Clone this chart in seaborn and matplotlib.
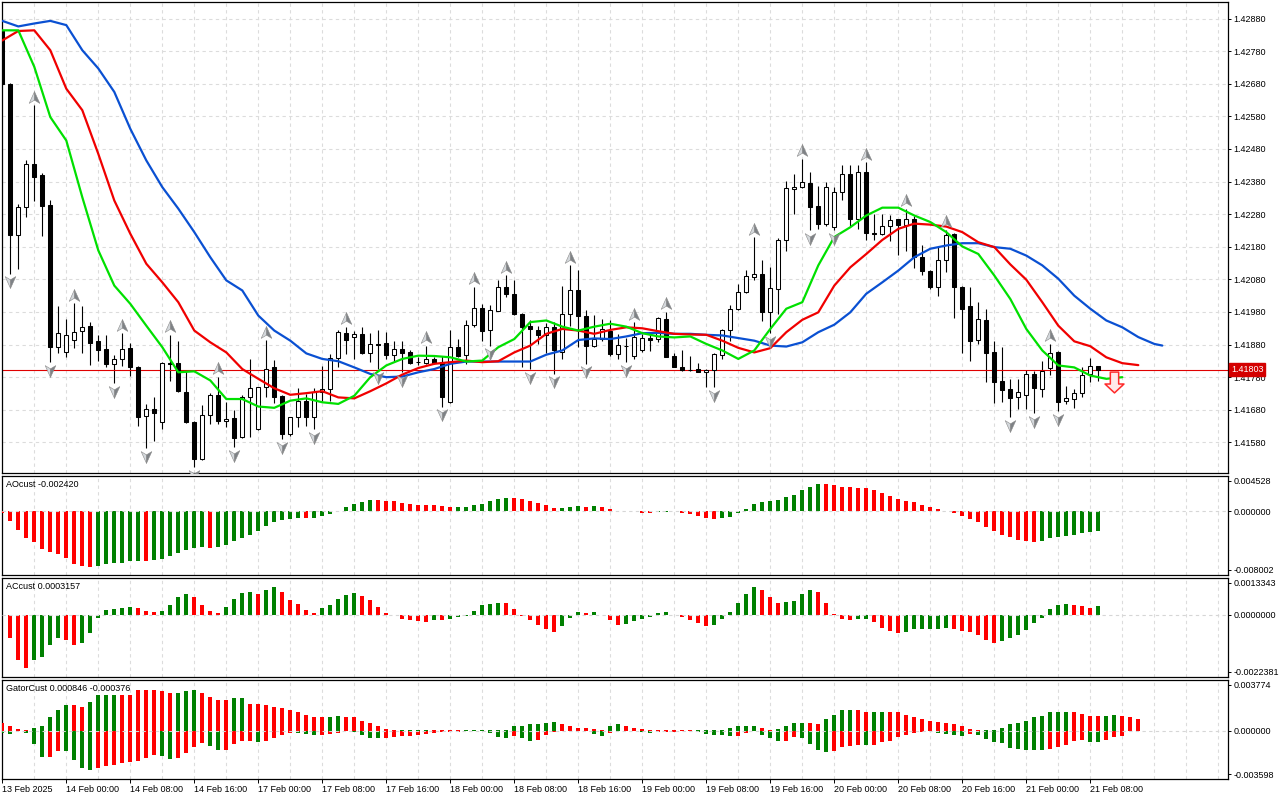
import numpy as np
import pandas as pd
import matplotlib
matplotlib.use("Agg")
import matplotlib.pyplot as plt
import seaborn as sns
from matplotlib.path import Path
from matplotlib.transforms import blended_transform_factory

sns.set_theme(style="white")
plt.rcParams['font.family'] = ['Liberation Sans', 'DejaVu Sans']
plt.rcParams['font.size'] = 6.5

# ---------------- data (hourly bars, 13 Feb 16:00 .. 21 Feb 09:00) ----------------
opens = [1.42844, 1.42680, 1.42215, 1.42302, 1.42433, 1.42399, 1.42307, 1.41872, 1.41856, 1.41894,
 1.41921, 1.41938, 1.41890, 1.41865, 1.41821, 1.41836, 1.41870, 1.41812, 1.41662, 1.41682,
 1.41641, 1.41824, 1.41824, 1.41736, 1.41644, 1.41529, 1.41664, 1.41725, 1.41645, 1.41654,
 1.41596, 1.41718, 1.41621, 1.41749, 1.41812, 1.41723, 1.41606, 1.41657, 1.41708, 1.41659,
 1.41734, 1.41744, 1.41838, 1.41916, 1.41902, 1.41911, 1.41853, 1.41882, 1.41884, 1.41848,
 1.41867, 1.41856, 1.41826, 1.41823, 1.41836, 1.41826, 1.41703, 1.41872, 1.41848, 1.41940,
 1.41993, 1.41925, 1.41984, 1.42058, 1.42036, 1.41974, 1.41938, 1.41925, 1.41908, 1.41935,
 1.41856, 1.41974, 1.42046, 1.41969, 1.41877, 1.41898, 1.41923, 1.41851, 1.41877, 1.41846,
 1.41862, 1.41900, 1.41897, 1.41959, 1.41846, 1.41812, 1.41803, 1.41804, 1.41796, 1.41802,
 1.41849, 1.41925, 1.41989, 1.42041, 1.42087, 1.42095, 1.41979, 1.42051, 1.42202, 1.42357,
 1.42363, 1.42376, 1.42305, 1.42251, 1.42240, 1.42348, 1.42402, 1.42266, 1.42409, 1.42222,
 1.42220, 1.42243, 1.42264, 1.42248, 1.42266, 1.42150, 1.42107, 1.42056, 1.42138, 1.42220,
 1.42058, 1.41997, 1.41894, 1.41954, 1.41856, 1.41767, 1.41744, 1.41718, 1.41725, 1.41790,
 1.41744, 1.41807, 1.41858, 1.41708, 1.41713, 1.41731, 1.41790, 1.41813]
highs = [1.42849, 1.42682, 1.42310, 1.42445, 1.42614, 1.42407, 1.42324, 1.41997, 1.41959, 1.42007,
 1.41997, 1.41949, 1.41908, 1.41908, 1.41849, 1.41915, 1.41885, 1.41814, 1.41698, 1.41718,
 1.41826, 1.41910, 1.41892, 1.41800, 1.41647, 1.41695, 1.41732, 1.41782, 1.41703, 1.41680,
 1.41725, 1.41836, 1.41751, 1.41894, 1.41834, 1.41725, 1.41659, 1.41746, 1.41729, 1.41746,
 1.41815, 1.41851, 1.41925, 1.41935, 1.41923, 1.41933, 1.41916, 1.41925, 1.41918, 1.41892,
 1.41892, 1.41862, 1.41841, 1.41877, 1.41843, 1.41846, 1.41925, 1.41898, 1.41954, 1.42058,
 1.42005, 1.42000, 1.42078, 1.42092, 1.42077, 1.41976, 1.41954, 1.41938, 1.41945, 1.41949,
 1.42061, 1.42123, 1.42109, 1.41986, 1.41972, 1.41959, 1.41956, 1.41911, 1.41900, 1.41949,
 1.41913, 1.41913, 1.41966, 1.41981, 1.41853, 1.41862, 1.41846, 1.41823, 1.41805, 1.41853,
 1.41928, 1.42000, 1.42066, 1.42109, 1.42210, 1.42140, 1.42117, 1.42207, 1.42381, 1.42402,
 1.42450, 1.42409, 1.42365, 1.42378, 1.42363, 1.42432, 1.42432, 1.42432, 1.42440, 1.42281,
 1.42281, 1.42276, 1.42266, 1.42297, 1.42273, 1.42184, 1.42109, 1.42179, 1.42232, 1.42222,
 1.42060, 1.42056, 1.42010, 1.41989, 1.41890, 1.41872, 1.41775, 1.41775, 1.41802, 1.41798,
 1.41829, 1.41882, 1.41860, 1.41754, 1.41744, 1.41812, 1.41839, 1.41815]
lows = [1.42675, 1.42098, 1.42112, 1.42271, 1.42322, 1.42213, 1.41826, 1.41853, 1.41843, 1.41870,
 1.41853, 1.41818, 1.41829, 1.41812, 1.41761, 1.41813, 1.41783, 1.41631, 1.41562, 1.41585,
 1.41621, 1.41769, 1.41734, 1.41638, 1.41503, 1.41526, 1.41636, 1.41636, 1.41626, 1.41565,
 1.41593, 1.41596, 1.41619, 1.41720, 1.41700, 1.41590, 1.41601, 1.41626, 1.41631, 1.41621,
 1.41708, 1.41708, 1.41812, 1.41851, 1.41836, 1.41851, 1.41826, 1.41805, 1.41836, 1.41826,
 1.41795, 1.41821, 1.41816, 1.41821, 1.41819, 1.41690, 1.41700, 1.41843, 1.41819, 1.41933,
 1.41890, 1.41877, 1.41982, 1.42025, 1.41972, 1.41812, 1.41805, 1.41882, 1.41853, 1.41790,
 1.41836, 1.41938, 1.41872, 1.41821, 1.41872, 1.41892, 1.41846, 1.41836, 1.41826, 1.41836,
 1.41856, 1.41860, 1.41887, 1.41841, 1.41810, 1.41798, 1.41798, 1.41795, 1.41751, 1.41749,
 1.41836, 1.41892, 1.41987, 1.42039, 1.42077, 1.41952, 1.41915, 1.41974, 1.42167, 1.42281,
 1.42361, 1.42230, 1.42235, 1.42245, 1.42230, 1.42325, 1.42245, 1.42235, 1.42202, 1.42201,
 1.42215, 1.42199, 1.42155, 1.42167, 1.42115, 1.42092, 1.42051, 1.42028, 1.42102, 1.41962,
 1.41854, 1.41829, 1.41882, 1.41764, 1.41700, 1.41703, 1.41657, 1.41682, 1.41682, 1.41669,
 1.41720, 1.41788, 1.41675, 1.41698, 1.41686, 1.41718, 1.41764, 1.41769]
closes = [1.42680, 1.42215, 1.42302, 1.42433, 1.42394, 1.42305, 1.41872, 1.41916, 1.41908, 1.41920,
 1.41935, 1.41884, 1.41864, 1.41821, 1.41836, 1.41867, 1.41812, 1.41657, 1.41682, 1.41669,
 1.41824, 1.41819, 1.41737, 1.41641, 1.41529, 1.41664, 1.41725, 1.41645, 1.41652, 1.41593,
 1.41720, 1.41747, 1.41749, 1.41805, 1.41720, 1.41606, 1.41657, 1.41708, 1.41659, 1.41734,
 1.41744, 1.41838, 1.41918, 1.41895, 1.41911, 1.41853, 1.41882, 1.41880, 1.41848, 1.41867,
 1.41853, 1.41823, 1.41826, 1.41836, 1.41823, 1.41718, 1.41872, 1.41846, 1.41941, 1.41993,
 1.41923, 1.41986, 1.42058, 1.42036, 1.41974, 1.41935, 1.41928, 1.41908, 1.41933, 1.41862,
 1.41974, 1.42046, 1.41969, 1.41877, 1.41898, 1.41928, 1.41851, 1.41880, 1.41875, 1.41902,
 1.41900, 1.41894, 1.41962, 1.41843, 1.41812, 1.41802, 1.41801, 1.41796, 1.41802, 1.41851,
 1.41925, 1.41989, 1.42041, 1.42091, 1.42095, 1.41979, 1.42054, 1.42202, 1.42361, 1.42363,
 1.42378, 1.42302, 1.42251, 1.42363, 1.42348, 1.42402, 1.42266, 1.42409, 1.42223, 1.42220,
 1.42243, 1.42261, 1.42248, 1.42266, 1.42148, 1.42105, 1.42056, 1.42138, 1.42217, 1.42056,
 1.41989, 1.41892, 1.41957, 1.41853, 1.41764, 1.41741, 1.41715, 1.41736, 1.41790, 1.41746,
 1.41800, 1.41854, 1.41705, 1.41715, 1.41732, 1.41788, 1.41813, 1.41803]

# Alligator lines (read every 2 bars, lines are shifted forward)
jaw_idx = list(range(0, 145, 2)) + [145]
jaw_vals = [1.42873, 1.42856, 1.42865, 1.42873, 1.42860, 1.42783, 1.42727, 1.42655, 1.42542, 1.42445,
 1.42363, 1.42297, 1.42225, 1.42148, 1.42077, 1.42046, 1.41969, 1.41923, 1.41892, 1.41853,
 1.41836, 1.41829, 1.41810, 1.41790, 1.41780, 1.41782, 1.41795, 1.41805, 1.41821, 1.41828,
 1.41828, 1.41828, 1.41828, 1.41828, 1.41849, 1.41862, 1.41894, 1.41899, 1.41897, 1.41905,
 1.41915, 1.41916, 1.41913, 1.41913, 1.41910, 1.41908, 1.41900, 1.41892, 1.41877, 1.41874,
 1.41887, 1.41918, 1.41941, 1.41979, 1.42036, 1.42071, 1.42107, 1.42148, 1.42174, 1.42184,
 1.42191, 1.42191, 1.42179, 1.42174, 1.42153, 1.42123, 1.42082, 1.42030, 1.41990, 1.41954,
 1.41933, 1.41903, 1.41882, 1.41877]
teeth_idx = list(range(0, 143, 2))
teeth_vals = [1.42813, 1.42842, 1.42844, 1.42783, 1.42665, 1.42599, 1.42465, 1.42322, 1.42220, 1.42128,
 1.42071, 1.42010, 1.41923, 1.41887, 1.41856, 1.41805, 1.41775, 1.41746, 1.41726, 1.41731,
 1.41737, 1.41718, 1.41715, 1.41737, 1.41761, 1.41788, 1.41808, 1.41821, 1.41826, 1.41831,
 1.41826, 1.41829, 1.41856, 1.41877, 1.41913, 1.41928, 1.41923, 1.41913, 1.41925, 1.41933,
 1.41930, 1.41921, 1.41913, 1.41911, 1.41910, 1.41892, 1.41870, 1.41856, 1.41869, 1.41918,
 1.41956, 1.41979, 1.42061, 1.42117, 1.42158, 1.42201, 1.42235, 1.42251, 1.42248, 1.42242,
 1.42225, 1.42194, 1.42179, 1.42126, 1.42079, 1.42010, 1.41938, 1.41890, 1.41875, 1.41841,
 1.41823, 1.41817]
lips_idx = list(range(0, 141, 2))
lips_vals = [1.42844, 1.42844, 1.42732, 1.42578, 1.42506, 1.42332, 1.42169, 1.42061, 1.42005, 1.41938,
 1.41872, 1.41795, 1.41798, 1.41770, 1.41713, 1.41713, 1.41690, 1.41686, 1.41708, 1.41715,
 1.41703, 1.41698, 1.41723, 1.41780, 1.41816, 1.41836, 1.41846, 1.41845, 1.41841, 1.41828,
 1.41831, 1.41872, 1.41897, 1.41949, 1.41954, 1.41935, 1.41923, 1.41935, 1.41944, 1.41935,
 1.41915, 1.41905, 1.41902, 1.41905, 1.41882, 1.41862, 1.41836, 1.41862, 1.41928, 1.41990,
 1.42010, 1.42123, 1.42210, 1.42240, 1.42276, 1.42300, 1.42300, 1.42276, 1.42256, 1.42225,
 1.42181, 1.42158, 1.42092, 1.42020, 1.41928, 1.41862, 1.41816, 1.41810, 1.41785, 1.41775,
 1.41780]

fractal_up = [4, 9, 15, 21, 27, 33, 43, 53, 59, 63, 71, 79, 83, 94, 100, 108, 113, 118, 131]
fractal_down = [1, 6, 14, 18, 24, 29, 35, 39, 47, 50, 55, 61, 66, 69, 73, 78, 89, 96, 101, 104, 126, 129, 132]
signal_idx = [139]
signal_price = [1.41766]
last_price = 1.41803
price_ticks = [1.42880, 1.42780, 1.42680, 1.42580, 1.42480, 1.42380, 1.42280,
               1.42180, 1.42080, 1.41980, 1.41880, 1.41780, 1.41680, 1.41580]
price_range = (1.41487, 1.42930)

ao_vals = [-0.00020, -0.00124, -0.00239, -0.00341, -0.00392, -0.00469, -0.00507, -0.00537, -0.00584, -0.00661,
 -0.00696, -0.00700, -0.00686, -0.00663, -0.00652, -0.00648, -0.00627, -0.00622, -0.00624, -0.00610,
 -0.00597, -0.00567, -0.00520, -0.00482, -0.00456, -0.00454, -0.00457, -0.00453, -0.00418, -0.00371,
 -0.00333, -0.00294, -0.00252, -0.00188, -0.00136, -0.00111, -0.00098, -0.00085, -0.00087, -0.00084,
 -0.00060, -0.00034, 0.00008, 0.00051, 0.00090, 0.00115, 0.00141, 0.00139, 0.00132, 0.00128,
 0.00111, 0.00098, 0.00085, 0.00077, 0.00076, 0.00064, 0.00051, 0.00052, 0.00053, 0.00077,
 0.00098, 0.00128, 0.00153, 0.00166, 0.00165, 0.00153, 0.00128, 0.00107, 0.00077, 0.00043,
 0.00044, 0.00051, 0.00064, 0.00060, 0.00064, 0.00051, 0.00030, 0.00004, 0.00002, 0.00003,
 -0.00017, -0.00021, -0.00005, -0.00001, 0.00001, -0.00021, -0.00034, -0.00055, -0.00085, -0.00098,
 -0.00085, -0.00072, -0.00021, 0.00030, 0.00090, 0.00115, 0.00128, 0.00141, 0.00179, 0.00205,
 0.00269, 0.00315, 0.00345, 0.00344, 0.00333, 0.00307, 0.00306, 0.00294, 0.00293, 0.00269,
 0.00230, 0.00192, 0.00153, 0.00128, 0.00115, 0.00077, 0.00051, 0.00030, 0.00004, -0.00021,
 -0.00060, -0.00098, -0.00136, -0.00200, -0.00252, -0.00294, -0.00328, -0.00367, -0.00379, -0.00384,
 -0.00379, -0.00341, -0.00328, -0.00307, -0.00294, -0.00277, -0.00264, -0.00242]
ao_range = (-0.008002, 0.004528)
ao_labels = ["0.004528", "0.000000", "-0.008002"]

ac_vals = [-0.00002, -0.00083, -0.00165, -0.00194, -0.00165, -0.00152, -0.00111, -0.00083, -0.00093, -0.00111,
 -0.00103, -0.00067, -0.00013, 0.00018, 0.00019, 0.00025, 0.00029, 0.00025, 0.00012, 0.00011,
 0.00014, 0.00036, 0.00065, 0.00076, 0.00065, 0.00036, 0.00014, 0.00007, 0.00029, 0.00058,
 0.00079, 0.00083, 0.00076, 0.00090, 0.00101, 0.00083, 0.00054, 0.00040, 0.00018, 0.00007,
 0.00025, 0.00036, 0.00058, 0.00072, 0.00079, 0.00069, 0.00054, 0.00029, 0.00007, -0.00001,
 -0.00014, -0.00018, -0.00024, -0.00025, -0.00020, -0.00021, -0.00017, -0.00010, -0.00006, 0.00014,
 0.00036, 0.00040, 0.00043, 0.00042, 0.00022, -0.00004, -0.00020, -0.00038, -0.00053, -0.00064,
 -0.00042, -0.00013, 0.00011, 0.00007, 0.00008, -0.00002, -0.00020, -0.00038, -0.00035, -0.00024,
 -0.00017, -0.00010, 0.00005, 0.00011, -0.00002, -0.00010, -0.00020, -0.00031, -0.00042, -0.00038,
 -0.00017, 0.00011, 0.00043, 0.00076, 0.00101, 0.00090, 0.00065, 0.00043, 0.00047, 0.00051,
 0.00076, 0.00090, 0.00083, 0.00043, 0.00004, -0.00017, -0.00020, -0.00017, -0.00016, -0.00028,
 -0.00049, -0.00060, -0.00067, -0.00064, -0.00053, -0.00052, -0.00051, -0.00050, -0.00049, -0.00052,
 -0.00060, -0.00064, -0.00075, -0.00093, -0.00103, -0.00096, -0.00085, -0.00075, -0.00057, -0.00031,
 -0.00013, 0.00022, 0.00036, 0.00037, 0.00035, 0.00032, 0.00025, 0.0003157]
ac_range = (-0.0022381, 0.0013343)
ac_labels = ["0.0013343", "0.0000000", "-0.0022381"]

gator_up = [0.00057, 0.00030, 0.00015, 0.00007, 0.00022, 0.00037, 0.00097, 0.00156, 0.00193, 0.00186,
 0.00178, 0.00215, 0.00267, 0.00267, 0.00267, 0.00267, 0.00267, 0.00304, 0.00304, 0.00304,
 0.00290, 0.00282, 0.00282, 0.00297, 0.00304, 0.00282, 0.00252, 0.00223, 0.00223, 0.00238,
 0.00245, 0.00200, 0.00200, 0.00186, 0.00178, 0.00171, 0.00156, 0.00141, 0.00119, 0.00104,
 0.00104, 0.00104, 0.00111, 0.00104, 0.00097, 0.00074, 0.00059, 0.00037, 0.00015, 0.00005,
 0.00007, 0.00007, 0.00007, 0.00007, 0.00007, 0.00007, 0.00007, 0.00005, 0.00007, 0.00003,
 0.00003, 0.00002, 0.00002, 0.00007, 0.00030, 0.00037, 0.00045, 0.00052, 0.00059, 0.00067,
 0.00052, 0.00037, 0.00022, 0.00022, 0.00015, 0.00002, 0.00030, 0.00045, 0.00037, 0.00022,
 0.00015, 0.00005, 0.00002, 0.00002, 0.00002, 0.00002, 0.00002, 0.00004, 0.00002, 0.00002,
 0.00007, 0.00022, 0.00030, 0.00030, 0.00037, 0.00022, 0.00007, 0.00015, 0.00037, 0.00059,
 0.00059, 0.00059, 0.00052, 0.00082, 0.00119, 0.00149, 0.00156, 0.00149, 0.00134, 0.00134,
 0.00134, 0.00134, 0.00134, 0.00119, 0.00104, 0.00089, 0.00074, 0.00067, 0.00059, 0.00045,
 0.00030, 0.00015, 0.00004, 0.00002, 0.00002, 0.00022, 0.00045, 0.00059, 0.00074, 0.00097,
 0.00111, 0.00134, 0.00141, 0.00141, 0.00134, 0.00126, 0.00111, 0.00111, 0.00111, 0.00119,
 0.00111, 0.00097, 0.000846]
gator_up_state = ("RRRRGGGGGR" "RGGGGRRRRR" "RRGGGRRRRG" "GRRRRRRRRR" "RGGRRRRRRR"
                  "GGGGRRRRGG" "GGGGGGGGGG" "RRRRRRGGRR" "RRRRRRRGGG" "GGGGGRRGGG"
                  "GRRGGGGRRG" "GRRRRRRRRR" "RRRGGGGGGG" "GGGGRRRRGG" "RRR")
gator_dn = [-0.00020, -0.00027, -0.00005, -0.00020, -0.00101, -0.00198, -0.00198, -0.00153, -0.00153, -0.00220,
 -0.00280, -0.00295, -0.00280, -0.00265, -0.00257, -0.00243, -0.00235, -0.00228, -0.00205, -0.00183,
 -0.00191, -0.00213, -0.00205, -0.00168, -0.00124, -0.00094, -0.00116, -0.00146, -0.00146, -0.00101,
 -0.00079, -0.00079, -0.00087, -0.00079, -0.00057, -0.00035, -0.00020, -0.00020, -0.00027, -0.00035,
 -0.00035, -0.00027, -0.00020, -0.00005, -0.00012, -0.00035, -0.00057, -0.00057, -0.00057, -0.00050,
 -0.00042, -0.00042, -0.00035, -0.00027, -0.00020, -0.00012, -0.00012, -0.00012, -0.00002, -0.00005,
 -0.00005, -0.00020, -0.00050, -0.00057, -0.00042, -0.00057, -0.00079, -0.00072, -0.00035, -0.00012,
 -0.00002, -0.00005, -0.00002, -0.00005, -0.00027, -0.00042, -0.00020, -0.00005, -0.00002, -0.00005,
 -0.00012, -0.00020, -0.00012, -0.00012, -0.00012, -0.00005, -0.00002, -0.00012, -0.00027, -0.00035,
 -0.00035, -0.00042, -0.00042, -0.00020, -0.00005, -0.00035, -0.00057, -0.00079, -0.00079, -0.00050,
 -0.00057, -0.00101, -0.00146, -0.00161, -0.00153, -0.00124, -0.00116, -0.00109, -0.00109, -0.00109,
 -0.00087, -0.00079, -0.00050, -0.00035, -0.00020, -0.00012, -0.00005, -0.00020, -0.00027, -0.00035,
 -0.00042, -0.00027, -0.00035, -0.00064, -0.00087, -0.00094, -0.00131, -0.00139, -0.00146, -0.00146,
 -0.00146, -0.00139, -0.00124, -0.00109, -0.00079, -0.00072, -0.00087, -0.00087, -0.00072, -0.00050,
 -0.000376]
gator_dn_state = ("GGRGGGRRGG" "GGRRRRRRRR" "GGRRRRGGRR" "RRGRRRRGGG" "RRRRGGGGRR"
                  "RRRRRRRRRG" "GGGGRGGRRR" "RRGGGGRRRG" "GGRRRRRGGG" "GGRRRGGGRR"
                  "GGGGRRRRGR" "RRRRRRRGGG" "GRGGGGGGGG" "GRRRRRGGRR" "R")
gator_range = (-0.003598, 0.003774)
gator_labels = ["0.003774", "0.000000", "-0.003598"]

time_tick_idx = list(range(0, 137, 8))
time_labels = ["13 Feb 2025", "14 Feb 00:00", "14 Feb 08:00", "14 Feb 16:00", "17 Feb 00:00",
               "17 Feb 08:00", "17 Feb 16:00", "18 Feb 00:00", "18 Feb 08:00", "18 Feb 16:00",
               "19 Feb 00:00", "19 Feb 08:00", "19 Feb 16:00", "20 Feb 00:00", "20 Feb 08:00",
               "20 Feb 16:00", "21 Feb 00:00", "21 Feb 08:00"]

# ---------------- figure ----------------
W, H = 1280, 800
fig = plt.figure(figsize=(W / 100, H / 100), dpi=100, facecolor='white')
LEFT, RIGHT = 2.3, 1227.5
BAR_PX = 8.0


def add_panel(top, bottom):
    return fig.add_axes([LEFT / W, 1 - bottom / H, (RIGHT - LEFT) / W, (bottom - top) / H])


ax_p = add_panel(2.3, 472.7)
ax_ao = add_panel(475.7, 574.7)
ax_ac = add_panel(577.7, 676.7)
ax_g = add_panel(679.7, 779.0)
panel_h = {ax_p: 470.4, ax_ao: 99.0, ax_ac: 99.0, ax_g: 99.3}

GRID = '#dcdcdc'
DASH = (0, (3, 3))
GREEN = '#008000'
RED = '#ff0000'
xmax = (RIGHT - LEFT) / BAR_PX

for ax in panel_h:
    ax.set_facecolor('white')
    for gx in range(4, int(xmax) + 1, 4):
        ax.axvline(gx, color=GRID, lw=0.8, ls=DASH, zorder=0)
    for sp in ax.spines.values():
        sp.set_color('black')
        sp.set_linewidth(0.9)
    ax.yaxis.tick_right()
    ax.tick_params(axis='y', which='both', right=True, left=False, length=2.5, width=0.7,
                   pad=1.8, labelsize=6.5, colors='black', direction='out')
    ax.tick_params(axis='x', bottom=False, labelbottom=False, top=False)

# ---- price panel ----
o = np.array(opens); h = np.array(highs); l = np.array(lows); c = np.array(closes)
n = len(o)
idx = np.arange(n)
bull = c >= o
ax_p.vlines(idx, l, h, color='black', lw=0.8, zorder=2)
ax_p.bar(idx, np.abs(c - o), bottom=np.minimum(o, c), width=0.52,
         color=np.where(bull, 'white', 'black'), edgecolor='black', linewidth=0.75, zorder=3)

ax_p.axhline(last_price, color='#e00000', lw=0.8, zorder=2.5)

sns.lineplot(x=jaw_idx, y=jaw_vals, ax=ax_p, color='#0a50d2', linewidth=1.6,
             estimator=None, sort=False, legend=False, zorder=5)
sns.lineplot(x=teeth_idx, y=teeth_vals, ax=ax_p, color='#f00000', linewidth=1.6,
             estimator=None, sort=False, legend=False, zorder=5)
sns.lineplot(x=lips_idx, y=lips_vals, ax=ax_p, color='#00e000', linewidth=1.6,
             estimator=None, sort=False, legend=False, zorder=5)

ymin, ymax = price_range
ax_p.set_ylim(ymin, ymax)
ax_p.set_yticks(price_ticks)
ax_p.set_yticklabels([f"{v:.5f}" for v in price_ticks])
for v in price_ticks:
    ax_p.axhline(v, color=GRID, lw=0.8, ls=DASH, zorder=0)
ax_p.set_xlabel(''); ax_p.set_ylabel('')

# fractal arrows: two-tone "3D" arrowheads
off = (ymax - ymin) / panel_h[ax_p] * 8.5
CL = [Path.MOVETO, Path.LINETO, Path.LINETO, Path.CLOSEPOLY]
up_left = Path([(0, 1), (0, -0.45), (-0.9, -1), (0, 1)], CL)
up_right = Path([(0, 1), (0.9, -1), (0, -0.45), (0, 1)], CL)
dn_left = Path([(0, -1), (-0.9, 1), (0, 0.45), (0, -1)], CL)
dn_right = Path([(0, -1), (0, 0.45), (0.9, 1), (0, -1)], CL)
fu = np.array(fractal_up); fd = np.array(fractal_down)
for pth, col in ((up_left, '#d4d8dc'), (up_right, '#7e8286')):
    ax_p.plot(fu, h[fu] + off, ls='none', marker=pth, ms=8.5, mfc=col, mec='#8a8a8a',
              mew=0.4, zorder=6)
for pth, col in ((dn_left, '#d4d8dc'), (dn_right, '#7e8286')):
    ax_p.plot(fd, l[fd] - off, ls='none', marker=pth, ms=8.5, mfc=col, mec='#8a8a8a',
              mew=0.4, zorder=6)

sig_path = Path([(-0.22, 0.55), (0.22, 0.55), (0.22, -0.08), (0.5, -0.08), (0, -0.55),
                 (-0.5, -0.08), (-0.22, -0.08), (-0.22, 0.55)],
                [Path.MOVETO] + [Path.LINETO] * 6 + [Path.CLOSEPOLY])
ax_p.plot(signal_idx, signal_price, ls='none', marker=sig_path, ms=15, mfc='#ffe8e8',
          mec='#ff2a2a', mew=1.1, zorder=7)

tr = blended_transform_factory(ax_p.transAxes, ax_p.transData)
ax_p.text(1.0028, last_price, f"{last_price:.5f}", transform=tr, color='white', fontsize=6.5,
          va='center', ha='left', zorder=20, clip_on=False,
          bbox=dict(boxstyle='square,pad=0.22', fc='#d40000', ec='#d40000'))


# ---- sub panels ----
def setup_sub(ax, rng, labels, title):
    lo, hi = rng
    ax.set_ylim(lo, hi)
    d = (hi - lo) / panel_h[ax] * 5
    ax.set_yticks([hi - d, 0, lo + d])
    ax.set_yticklabels(labels)
    ax.axhline(0, color='#d6d6d6', lw=0.8, ls=DASH, zorder=4)
    ax.annotate(title, xy=(0, 1), xycoords='axes fraction', xytext=(4, -9),
                textcoords='offset pixels', va='center', ha='left', fontsize=6.5,
                color='black', zorder=10)


ao = np.array(ao_vals)
ao_col = np.where(np.diff(ao, prepend=ao[0]) > 0, GREEN, RED)
ax_ao.bar(np.arange(len(ao)), ao, width=0.5, color=ao_col, linewidth=0, zorder=3)
setup_sub(ax_ao, ao_range, ao_labels, f"AOcust {ao_vals[-1]:.6f}")

ac = np.array(ac_vals)
ac_col = np.where(np.diff(ac, prepend=ac[0]) > 0, GREEN, RED)
ax_ac.bar(np.arange(len(ac)), ac, width=0.5, color=ac_col, linewidth=0, zorder=3)
setup_sub(ax_ac, ac_range, ac_labels, f"ACcust {ac_vals[-1]:.7f}")

gu = np.array(gator_up); gd = np.array(gator_dn)
ax_g.bar(np.arange(len(gu)), gu, width=0.5,
         color=[GREEN if s == 'G' else RED for s in gator_up_state], linewidth=0, zorder=3)
ax_g.bar(np.arange(len(gd)), gd, width=0.5,
         color=[GREEN if s == 'G' else RED for s in gator_dn_state], linewidth=0, zorder=3)
setup_sub(ax_g, gator_range, gator_labels, f"GatorCust {gator_up[-1]:.6f} {gator_dn[-1]:.6f}")

for ax in panel_h:
    ax.set_xlim(0, xmax)

ax_g.set_xticks(time_tick_idx)
ax_g.set_xticklabels(time_labels, ha='left')
ax_g.tick_params(axis='x', bottom=True, labelbottom=True, length=3, width=0.7, pad=1.5,
                 labelsize=6.5, colors='black', direction='out')

fig.savefig('out.png', dpi=100, facecolor='white')
